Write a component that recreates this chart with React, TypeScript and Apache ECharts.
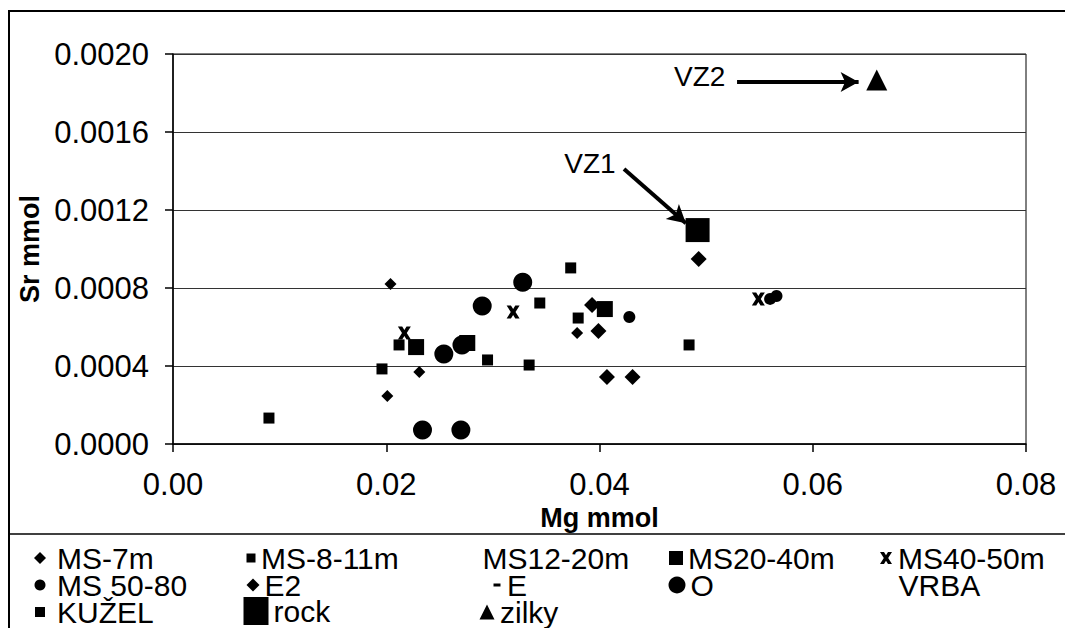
import { useEffect, useRef } from "react";
import * as echarts from "echarts";

const FONT = "'Liberation Sans', Arial, sans-serif";

// Axis ticks
const xTicks = [0, 0.02, 0.04, 0.06, 0.08];
const yTicks = [0, 0.0004, 0.0008, 0.0012, 0.0016, 0.002];

// Samples: [Mg mmol, Sr mmol]
const ms7m = [[0.0204, 0.00082], [0.0201, 0.000246], [0.0231, 0.000369], [0.0379, 0.000569]];
const ms8to11m = [[0.009, 0.000133], [0.0196, 0.000385], [0.0212, 0.000508], [0.0295, 0.000431], [0.0334, 0.000405], [0.038, 0.000646]];
const ms12to20m: number[][] = [];
const ms20to40m = [[0.0228, 0.000497], [0.0276, 0.000518], [0.0405, 0.000692]];
const ms40to50m = [[0.0217, 0.000569], [0.0319, 0.000677], [0.0549, 0.000744]];
const ms50to80 = [[0.0428, 0.000651], [0.056, 0.000744], [0.0566, 0.000759]];
const e2 = [[0.0407, 0.000344], [0.0431, 0.000344], [0.0493, 0.000949], [0.0399, 0.000579], [0.0393, 0.000713]];
const eSite: number[][] = [];
const oSite = [[0.0328, 0.00083], [0.029, 0.000708], [0.0254, 0.000462], [0.0271, 0.000508], [0.0234, 0.0000718], [0.027, 0.0000718]];
const vrba: number[][] = [];
const kuzel = [[0.0373, 0.000903], [0.0344, 0.000723], [0.0484, 0.000508]];
const rock = [[0.0492, 0.001097]];
const zilky = [[0.066, 0.001867]];

// Callouts
const calloutNames = ["VZ1", "VZ2"];
const calloutLabelAt = [[0.0391, 0.001436], [0.0494, 0.001887]];
const calloutArrowFrom = [[0.0423, 0.00141], [0.0529, 0.001856]];
const calloutArrowTo = [[0.0481, 0.001132], [0.0643, 0.001856]];

// Bold "x" marker with flat tips
const X_MARK =
  "path://M0,0 L4,0 L6,3.2 L8,0 L12,0 L8.2,6 L12,12 L8,12 L6,8.8 L4,12 L0,12 L3.8,6 Z";

const seriesDefs = [
  { name: "MS-7m", data: ms7m, symbol: "diamond", size: 12 },
  { name: "MS-8-11m", data: ms8to11m, symbol: "rect", size: 11 },
  { name: "MS12-20m", data: ms12to20m, symbol: "none", size: 1 },
  { name: "MS20-40m", data: ms20to40m, symbol: "rect", size: 16 },
  { name: "MS40-50m", data: ms40to50m, symbol: X_MARK, size: 13 },
  { name: "MS 50-80", data: ms50to80, symbol: "circle", size: 12 },
  { name: "E2", data: e2, symbol: "diamond", size: 16 },
  { name: "E", data: eSite, symbol: "rect", size: [8, 3] },
  { name: "O", data: oSite, symbol: "circle", size: 19 },
  { name: "VRBA", data: vrba, symbol: "none", size: 1 },
  { name: "KUŽEL", data: kuzel, symbol: "rect", size: 11 },
  { name: "rock", data: rock, symbol: "rect", size: 24 },
  { name: "zilky", data: zilky, symbol: "triangle", size: 21 },
];

// Legend cells: row, icon, icon box, icon centre x, text start x
const legendCells = [
  { name: "MS-7m", row: 0, icon: "diamond", w: 12, h: 12, cx: 40, tx: 57 },
  { name: "MS-8-11m", row: 0, icon: "rect", w: 9, h: 9, cx: 251, tx: 261 },
  { name: "MS12-20m", row: 0, icon: "", w: 1, h: 1, cx: 477, tx: 482 },
  { name: "MS20-40m", row: 0, icon: "rect", w: 14, h: 14, cx: 676, tx: 688 },
  { name: "MS40-50m", row: 0, icon: X_MARK, w: 12, h: 12, cx: 886, tx: 898 },
  { name: "MS 50-80", row: 1, icon: "circle", w: 11, h: 11, cx: 40, tx: 57 },
  { name: "E2", row: 1, icon: "diamond", w: 13, h: 13, cx: 253, tx: 263 },
  { name: "E", row: 1, icon: "rect", w: 7, h: 3, cx: 497, tx: 507 },
  { name: "O", row: 1, icon: "circle", w: 17, h: 17, cx: 677, tx: 689 },
  { name: "VRBA", row: 1, icon: "", w: 1, h: 1, cx: 893, tx: 898 },
  { name: "KUŽEL", row: 2, icon: "rect", w: 10, h: 10, cx: 40, tx: 57 },
  { name: "rock", row: 2, icon: "rect", w: 25, h: 28, cx: 256, tx: 272 },
  { name: "zilky", row: 2, icon: "triangle", w: 15, h: 15, cx: 487, tx: 500 },
];
const legendRowCenters = [556, 583, 610];
const LEGEND_LINE = 26;

export default function App() {
  const ref = useRef<HTMLDivElement>(null);

  useEffect(() => {
    if (!ref.current) return;
    const chart = echarts.init(ref.current, null, { renderer: "svg" });

    const legends = legendCells.map((c) => ({
      show: true,
      data: [c.name],
      orient: "horizontal",
      left: c.cx - c.w / 2,
      top: legendRowCenters[c.row] - Math.max(LEGEND_LINE, c.h) / 2,
      padding: 0,
      itemWidth: c.w,
      itemHeight: c.h,
      icon: c.icon || "rect",
      selectedMode: false,
      itemStyle: c.icon
        ? { color: "#000", borderWidth: 0 }
        : { color: "rgba(0,0,0,0)", borderWidth: 0 },
      textStyle: {
        fontFamily: FONT,
        fontSize: 30,
        lineHeight: LEGEND_LINE,
        color: "#000",
        padding: [0, 0, 0, Math.max(0, c.tx - (c.cx + c.w / 2) - 5)],
      },
    }));

    const series: any[] = seriesDefs.map((s) => ({
      type: "scatter",
      name: s.name,
      data: s.data,
      symbol: s.symbol,
      symbolSize: s.size,
      itemStyle: { color: "#000", opacity: 1 },
      silent: true,
      emphasis: { disabled: true },
    }));

    // Callout labels and arrows
    series.push({
      type: "scatter",
      name: "callouts",
      data: [],
      silent: true,
      markPoint: {
        silent: true,
        symbol: "circle",
        symbolSize: 1,
        itemStyle: { color: "rgba(0,0,0,0)" },
        label: {
          show: true,
          position: "inside",
          formatter: "{b}",
          fontFamily: FONT,
          fontSize: 28,
          color: "#000",
        },
        data: calloutNames.map((n, i) => ({ name: n, coord: calloutLabelAt[i] })),
      },
      markLine: {
        silent: true,
        symbol: ["none", "arrow"],
        symbolSize: [15, 18],
        label: { show: false },
        lineStyle: { color: "#000", width: 4, type: "solid" },
        data: calloutNames.map((_, i) => [
          { coord: calloutArrowFrom[i] },
          { coord: calloutArrowTo[i] },
        ]),
      },
    });

    chart.setOption({
      animation: false,
      backgroundColor: "#fff",
      textStyle: { fontFamily: FONT },
      grid: {
        left: 173,
        top: 54,
        right: 39,
        bottom: 184,
        show: true,
        borderColor: "#000",
        borderWidth: 1,
        backgroundColor: "transparent",
      },
      xAxis: {
        type: "value",
        min: xTicks[0],
        max: xTicks[xTicks.length - 1],
        interval: xTicks[1] - xTicks[0],
        name: "Mg mmol",
        nameLocation: "middle",
        nameGap: 59,
        nameTextStyle: { fontFamily: FONT, fontSize: 27, fontWeight: "bold", color: "#000" },
        axisLine: { show: true, lineStyle: { color: "#000", width: 1.5 } },
        axisTick: { show: true, inside: false, length: 8, lineStyle: { color: "#000", width: 1.5 } },
        axisLabel: {
          fontFamily: FONT,
          fontSize: 31,
          color: "#000",
          margin: 25,
          formatter: (v: number) => v.toFixed(2),
        },
        splitLine: { show: false },
      },
      yAxis: {
        type: "value",
        min: yTicks[0],
        max: yTicks[yTicks.length - 1],
        interval: yTicks[1] - yTicks[0],
        name: "Sr mmol",
        nameLocation: "middle",
        nameGap: 126,
        nameTextStyle: { fontFamily: FONT, fontSize: 27, fontWeight: "bold", color: "#000" },
        axisLine: { show: true, lineStyle: { color: "#000", width: 1.5 } },
        axisTick: { show: true, inside: false, length: 8, lineStyle: { color: "#000", width: 1.5 } },
        axisLabel: {
          fontFamily: FONT,
          fontSize: 31,
          color: "#000",
          margin: 24,
          formatter: (v: number) => v.toFixed(4),
        },
        splitLine: { show: true, lineStyle: { color: "#333", width: 1 } },
      },
      legend: legends,
      graphic: [
        {
          type: "rect",
          silent: true,
          shape: { x: 9, y: 11, width: 1100, height: 700 },
          style: { fill: "none", stroke: "#000", lineWidth: 2 },
        },
        {
          type: "line",
          silent: true,
          shape: { x1: 9, y1: 534, x2: 1065, y2: 534 },
          style: { stroke: "#000", lineWidth: 1.5 },
        },
      ],
      series,
    });

    return () => chart.dispose();
  }, []);

  return (
    <div
      ref={ref}
      style={{ position: "absolute", left: 0, top: 0, width: 1065, height: 628 }}
    />
  );
}
